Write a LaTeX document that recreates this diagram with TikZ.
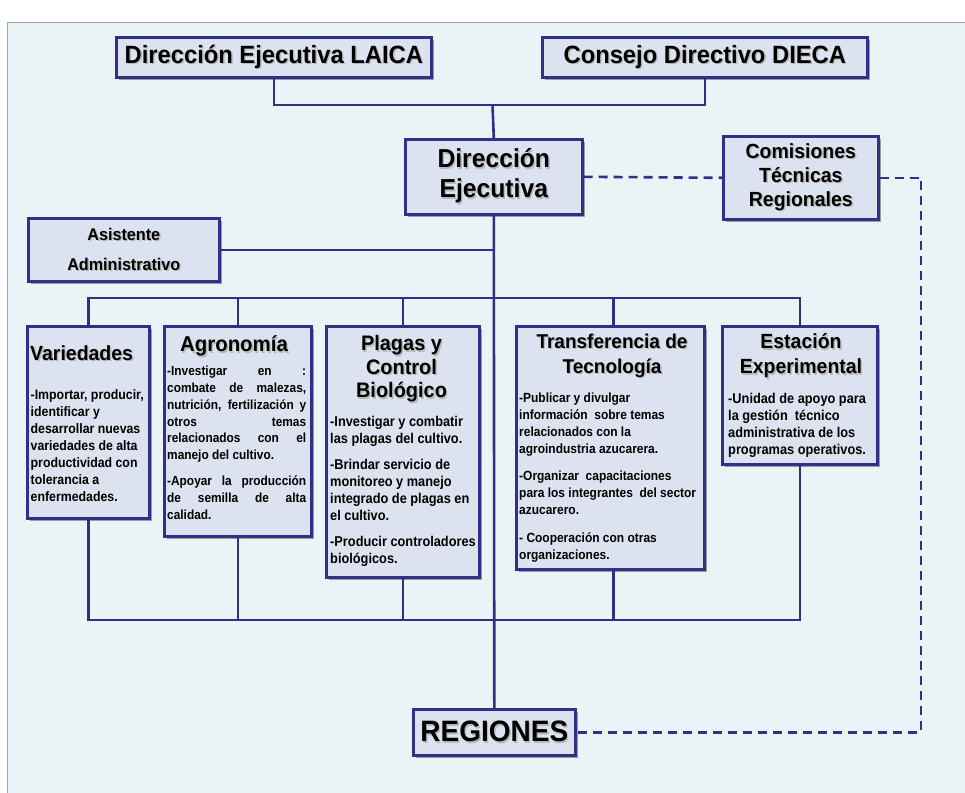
\documentclass[tikz,border=0pt]{standalone}
\usepackage{fontspec}
\newfontfamily\tfont{Liberation Sans}[FakeStretch=0.95]
\newfontfamily\bfont{Liberation Sans}[FakeStretch=0.9]
\usetikzlibrary{shadows}
\definecolor{navy}{RGB}{48,48,135}
\definecolor{panel}{RGB}{234,243,246}
\definecolor{boxfill}{RGB}{221,226,240}
\newcommand\shd[1]{\leavevmode\rlap{\kern1.4pt\raisebox{-1.4pt}{\color{black!28}#1}}#1}
\tikzset{
 orgbox/.style={draw=navy, line width=2.6pt, fill=boxfill, inner sep=0pt, anchor=north west,
   text=black, align=center,
   drop shadow={shadow xshift=2.5pt, shadow yshift=-2.5pt, opacity=0.35, fill=black}},
 link/.style={draw=navy, line width=2.6pt},
 dlink/.style={link, dash pattern=on 9pt off 6pt},
 ttl/.style={inner sep=0pt, align=center},
 bodytxt/.style={font=\bfont\bfseries\fontsize{14}{17}\selectfont, inner sep=0pt, align=left, anchor=north west},
}
\begin{document}
\hyphenpenalty=10000 \exhyphenpenalty=10000
\begin{tikzpicture}[x=1pt,y=-1pt]
\useasboundingbox (0,0) rectangle (965,792);
\fill[white] (0,0) rectangle (965,792);
\filldraw[fill=panel, draw=gray!70, line width=0.8pt] (7,22) rectangle (975,800);

% top boxes
\node[orgbox, minimum width=315pt, minimum height=40pt, font=\tfont\bfseries\fontsize{25}{30}\selectfont] (laica) at (115,36) {\shd{Dirección Ejecutiva LAICA}};
\node[orgbox, minimum width=325pt, minimum height=40pt, font=\tfont\bfseries\fontsize{25}{30}\selectfont] (dieca) at (541,36) {\shd{Consejo Directivo DIECA}};
\node[orgbox, minimum width=177pt, minimum height=75pt, font=\tfont\bfseries\fontsize{26}{30}\selectfont] (de) at (404,138) {\shd{Dirección}\\\shd{Ejecutiva}};
\node[orgbox, minimum width=155pt, minimum height=83pt, font=\tfont\bfseries\fontsize{20.5}{24}\selectfont] (com) at (722,135) {\shd{Comisiones}\\\shd{Técnicas}\\\shd{Regionales}};
\node[orgbox, minimum width=191pt, minimum height=63pt, font=\tfont\bfseries\fontsize{17}{30}\selectfont] (asis) at (27,217) {\shd{Asistente}\\\shd{Administrativo}};
\node[orgbox, minimum width=162pt, minimum height=46pt, font=\tfont\bfseries\fontsize{29.5}{32}\selectfont] (reg) at (412,708) {\shd{REGIONES}};

% program boxes
\node[orgbox, minimum width=122pt, minimum height=192pt] (var) at (26,325) {};
\node[orgbox, minimum width=147pt, minimum height=210pt] (agr) at (163,325) {};
\node[orgbox, minimum width=153pt, minimum height=251pt] (pla) at (325,325) {};
\node[orgbox, minimum width=188pt, minimum height=243pt] (tra) at (515,325) {};
\node[orgbox, minimum width=155pt, minimum height=138pt] (est) at (721,325) {};

% titles
\node[ttl, anchor=base west, font=\tfont\bfseries\fontsize{20.5}{24}\selectfont] (vart) at (30,360.3) {\shd{Variedades}};
\node[ttl, anchor=base, font=\tfont\bfseries\fontsize{21.5}{24}\selectfont] (agrt) at (234,351.7) {\shd{Agronomía}};
\node[ttl, anchor=north, font=\tfont\bfseries\fontsize{21}{23.5}\selectfont] (plat) at (401.5,335.5) {\shd{Plagas y}\\\shd{Control}\\\shd{Biológico}};
\node[ttl, anchor=north, font=\tfont\bfseries\fontsize{20}{25}\selectfont] (trat) at (612,333.5) {\shd{Transferencia de}\\\shd{Tecnología}};
\node[ttl, anchor=north, font=\tfont\bfseries\fontsize{20.5}{25}\selectfont] (estt) at (801,333.5) {\shd{Estación}\\\shd{Experimental}};

% bodies
\node[bodytxt, font=\bfont\bfseries\fontsize{13.7}{17}\selectfont] (varb) at (30.5,389) {-Importar, producir,\\identificar y\\desarrollar nuevas\\variedades de alta\\productividad con\\tolerancia a\\enfermedades.};
\node[bodytxt, font=\bfont\bfseries\fontsize{13.2}{16.8}\selectfont, text width=139pt, align=justify] (agrb) at (167,366) {-Investigar en :\linebreak combate de malezas,\linebreak nutrición, fertilización y\linebreak otros temas\linebreak relacionados con el\linebreak manejo del cultivo.\\[9pt]-Apoyar la producción\linebreak de semilla de alta\linebreak calidad.};
\node[bodytxt, font=\bfont\bfseries\fontsize{14.2}{17}\selectfont] (plab) at (330,416) {-Investigar y combatir\\las plagas del cultivo.\\[9pt]-Brindar servicio de\\monitoreo y manejo\\integrado de plagas en\\el cultivo.\\[9pt]-Producir controladores\\biológicos.};
\node[bodytxt, font=\bfont\bfseries\fontsize{13.3}{17}\selectfont] (trab) at (519,393) {-Publicar y divulgar\\información \ sobre temas\\relacionados con la\\agroindustria azucarera.\\[10pt]-Organizar \ capacitaciones\\para los integrantes \ del sector\\azucarero.\\[11pt]- Cooperación con otras\\organizaciones.};
\node[bodytxt, font=\bfont\bfseries\fontsize{14.2}{17}\selectfont] (estb) at (728,393) {-Unidad de apoyo para\\la gestión \ técnico\\administrativa de los\\programas operativos.};

% connectors
\coordinate (j1) at (492.5,105);
\coordinate (tb) at (492.5,298);
\coordinate (bb) at (492.5,620);
\coordinate (dc) at (921,177);
\draw[link] (laica.south) |- (j1) -| (dieca.south);
\draw[link] (j1) -- (de.north);
\draw[link] (de.south) -- (reg.north);
\draw[link] (asis.east) -- (asis.east -| de.south);
\draw[link] (var.north) |- (tb) -| (est.north);
\draw[link] (agr.north) -- (agr.north |- tb);
\draw[link] (pla.north) -- (pla.north |- tb);
\draw[link] ([xshift=3pt]tra.north) -- ([xshift=3pt]tra.north |- tb);
\draw[link] (var.south) |- (bb) -| (est.south);
\draw[link] (agr.south) -- (agr.south |- bb);
\draw[link] (pla.south) -- (pla.south |- bb);
\draw[link] ([xshift=3pt]tra.south) -- ([xshift=3pt]tra.south |- bb);
\draw[dlink] (de.east) -- (com.west);
\draw[dlink] (com.east) -- (com.east -| dc) -- (dc |- reg.east) -- (reg.east);
\end{tikzpicture}
\end{document}
